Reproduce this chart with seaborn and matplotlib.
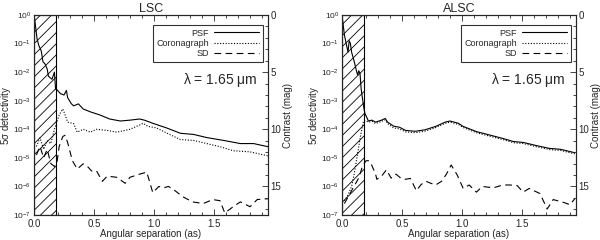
import matplotlib
matplotlib.use('Agg')
import numpy as np
import matplotlib.pyplot as plt
from matplotlib.ticker import MultipleLocator, FixedLocator, NullLocator, FormatStrFormatter
import seaborn as sns

# values, detectivity stored as log10
lsc_psf_x = [0.00, 0.01, 0.025, 0.04, 0.06, 0.075, 0.09, 0.11, 0.12, 0.15, 0.17, 0.18,
             0.19, 0.22, 0.25, 0.27, 0.28, 0.31, 0.33, 0.37, 0.41, 0.47, 0.55, 0.63,
             0.72, 0.80, 0.88, 0.92, 0.99, 1.11, 1.22, 1.33, 1.44, 1.58, 1.72, 1.83, 1.95]
lsc_psf_log = [0.0, -0.3, -0.82, -1.07, -1.25, -1.64, -1.7, -1.89, -2.14, -2.25, -2.0, -2.6,
               -2.61, -2.75, -2.8, -2.64, -2.89, -3.1, -3.18, -3.11, -3.29, -3.39, -3.5, -3.64,
               -3.71, -3.68, -3.64, -3.68, -3.79, -3.96, -4.14, -4.18, -4.29, -4.39, -4.5, -4.5, -4.61]

lsc_cor_x = [0.02, 0.05, 0.08, 0.11, 0.14, 0.17, 0.19, 0.21, 0.24, 0.26, 0.28, 0.33, 0.36,
             0.41, 0.47, 0.52, 0.61, 0.69, 0.80, 0.88, 0.91, 0.95, 1.02, 1.11, 1.22, 1.33,
             1.44, 1.55, 1.66, 1.80, 1.95]
lsc_cor_log = [-4.6, -4.3, -4.7, -4.4, -4.5, -4.0, -3.75, -3.5, -3.29, -3.5, -3.75, -3.8, -4.1,
               -4.0, -4.1, -4.0, -4.04, -4.1, -4.0, -3.85, -3.79, -3.9, -3.95, -4.14, -4.36, -4.39,
               -4.5, -4.61, -4.75, -4.79, -4.93]

lsc_sd_x = [0.02, 0.05, 0.08, 0.11, 0.14, 0.17, 0.19, 0.21, 0.24, 0.26, 0.28, 0.32, 0.36,
            0.41, 0.45, 0.48, 0.52, 0.57, 0.61, 0.69, 0.76, 0.80, 0.88, 0.94, 0.99, 1.04,
            1.08, 1.12, 1.16, 1.24, 1.32, 1.41, 1.49, 1.55, 1.59, 1.66, 1.72, 1.80, 1.86, 1.95]
lsc_sd_log = [-4.9, -4.6, -5.0, -4.7, -5.2, -5.3, -5.2, -4.6, -4.25, -4.21, -4.46, -5.1, -5.39,
              -5.21, -5.32, -5.46, -5.45, -5.82, -5.64, -5.68, -5.89, -5.68, -5.57, -5.5, -6.22, -6.0,
              -6.05, -6.0, -6.1, -6.36, -6.54, -6.6, -6.46, -6.5, -6.93, -6.71, -6.54, -6.71, -6.46, -6.43]

alsc_psf_x = [0.00, 0.02, 0.04, 0.05, 0.06, 0.07, 0.08, 0.10, 0.12, 0.13, 0.14, 0.15, 0.16,
              0.18, 0.19, 0.22, 0.25, 0.28, 0.33, 0.36, 0.38, 0.43, 0.48, 0.53, 0.61, 0.69,
              0.78, 0.86, 0.90, 0.97, 1.01, 1.12, 1.23, 1.34, 1.43, 1.51, 1.62, 1.73, 1.82, 1.94]
alsc_psf_log = [0.0, -0.7, -1.1, -1.3, -0.9, -1.0, -1.3, -1.6, -1.95, -2.1, -1.95, -2.05, -2.6,
                -3.2, -3.43, -3.71, -3.68, -3.75, -3.68, -3.62, -3.75, -3.89, -3.93, -4.04, -4.07, -4.02,
                -3.9, -3.75, -3.71, -3.79, -3.9, -4.08, -4.2, -4.32, -4.43, -4.46, -4.57, -4.67, -4.7, -4.82]

alsc_cor_x = [0.02, 0.05, 0.08, 0.10, 0.12, 0.14, 0.16, 0.18, 0.20, 0.22, 0.25, 0.28, 0.33,
              0.36, 0.38, 0.43, 0.48, 0.53, 0.61, 0.69, 0.78, 0.86, 0.90, 0.97, 1.01, 1.12,
              1.23, 1.34, 1.43, 1.51, 1.62, 1.73, 1.82, 1.94]
alsc_cor_log = [-6.5, -6.3, -6.0, -5.6, -5.1, -4.6, -4.1, -3.7, -3.7, -3.75, -3.72, -3.8, -3.72,
                -3.67, -3.8, -3.95, -3.99, -4.09, -4.12, -4.07, -3.94, -3.79, -3.75, -3.83, -3.94, -4.12,
                -4.24, -4.36, -4.47, -4.5, -4.61, -4.71, -4.74, -4.86]

alsc_sd_x = [0.02, 0.06, 0.10, 0.14, 0.17, 0.20, 0.22, 0.24, 0.28, 0.29, 0.33, 0.37, 0.41,
             0.45, 0.49, 0.53, 0.57, 0.62, 0.66, 0.70, 0.74, 0.78, 0.83, 0.87, 0.91, 0.96,
             1.01, 1.06, 1.12, 1.17, 1.26, 1.34, 1.40, 1.46, 1.51, 1.56, 1.60, 1.65, 1.71,
             1.76, 1.84, 1.90, 1.94]
alsc_sd_log = [-6.6, -6.3, -6.0, -5.7, -5.3, -5.1, -5.1, -5.18, -5.57, -5.75, -5.64, -5.42, -5.71,
               -5.57, -5.71, -5.75, -5.72, -6.15, -5.93, -5.82, -5.89, -5.95, -5.82, -5.57, -5.25, -5.6,
               -6.07, -5.95, -6.2, -6.0, -6.05, -5.95, -5.95, -5.97, -6.2, -6.07, -6.15, -6.25, -6.79,
               -6.46, -6.55, -6.64, -6.43]

panels = [
    ('LSC', lsc_psf_x, lsc_psf_log, lsc_cor_x, lsc_cor_log, lsc_sd_x, lsc_sd_log),
    ('ALSC', alsc_psf_x, alsc_psf_log, alsc_cor_x, alsc_cor_log, alsc_sd_x, alsc_sd_log),
]
mask_edge = 0.18
y_ticks = [1e0, 1e-1, 1e-2, 1e-3, 1e-4, 1e-5, 1e-6, 1e-7]
y_ticklabels = [r'$10^{0}$', r'$10^{-1}$', r'$10^{-2}$', r'$10^{-3}$',
                r'$10^{-4}$', r'$10^{-5}$', r'$10^{-6}$', r'$10^{-7}$']
mag_ticks = [0, 5, 10, 15]

sns.set_style('ticks')
plt.rcParams['font.family'] = ['Liberation Sans', 'DejaVu Sans']
plt.rcParams['mathtext.fontset'] = 'custom'
plt.rcParams['mathtext.rm'] = 'Liberation Sans'
plt.rcParams['mathtext.it'] = 'Liberation Sans'
plt.rcParams['mathtext.default'] = 'regular'
plt.rcParams['hatch.linewidth'] = 0.6
plt.rcParams['axes.linewidth'] = 0.8

fig = plt.figure(figsize=(6, 2.4), dpi=100)
lefts = [34 / 600, 342 / 600]

for (title, px, py, cx, cy, sx, sy), left in zip(panels, lefts):
    ax = fig.add_axes([left, 25 / 240, 234 / 600, 200 / 240])
    ax.axvspan(0, mask_edge, facecolor='white', edgecolor='black', hatch='///', lw=0.8, zorder=1)

    sns.lineplot(x=px, y=10 ** np.array(py), ax=ax, color='black', lw=0.8,
                 label='PSF', zorder=3)
    sns.lineplot(x=cx, y=10 ** np.array(cy), ax=ax, color='black', lw=0.8,
                 linestyle=(0, (1, 1.5)), label='Coronagraph', zorder=3)
    sns.lineplot(x=sx, y=10 ** np.array(sy), ax=ax, color='black', lw=0.8,
                 linestyle=(0, (6, 4)), label='SD', zorder=3)

    ax.set_yscale('log')
    ax.set_xlim(0, 1.95)
    ax.set_ylim(1e-7, 1e0)
    ax.yaxis.set_major_locator(FixedLocator(y_ticks))
    ax.yaxis.set_minor_locator(NullLocator())
    ax.set_yticklabels(y_ticklabels)
    ax.xaxis.set_major_locator(MultipleLocator(0.5))
    ax.xaxis.set_minor_locator(MultipleLocator(0.1))
    ax.xaxis.set_major_formatter(FormatStrFormatter('%.1f'))
    ax.tick_params(which='both', direction='in', top=True)
    ax.tick_params(axis='x', labelsize=7, pad=3)
    ax.tick_params(axis='y', labelsize=6, pad=2)
    ax.tick_params(which='major', length=4, width=0.6)
    ax.tick_params(which='minor', length=2, width=0.6)

    ax.set_title(title, fontsize=9, pad=2)
    ax.set_xlabel('Angular separation (as)', fontsize=7, labelpad=0)
    ax.set_ylabel(r'5$\sigma$ detectivity', fontsize=7)
    ax.yaxis.set_label_coords(-0.088, 0.5)

    leg = ax.legend(loc='upper right', bbox_to_anchor=(0.979, 0.95), markerfirst=False,
                    frameon=True, fancybox=False, fontsize=6.5, handlelength=5,
                    borderaxespad=0, labelspacing=0.15, handletextpad=0.6, borderpad=0.4)
    leg.get_frame().set_edgecolor('black')
    leg.get_frame().set_linewidth(0.8)
    leg._legend_box.align = 'right'

    ax.text(0.953, 0.675, r'$\lambda$ = 1.65 $\mu$m', transform=ax.transAxes,
            ha='right', va='center', fontsize=10)

    ax2 = ax.twinx()
    ax2.set_ylim(17.5, 0)
    ax2.yaxis.set_major_locator(FixedLocator(mag_ticks))
    ax2.yaxis.set_minor_locator(MultipleLocator(1))
    ax2.tick_params(which='both', direction='in', labelsize=7, pad=2)
    ax2.tick_params(which='major', length=4, width=0.6)
    ax2.tick_params(which='minor', length=2, width=0.6)
    ax2.set_ylabel('Contrast (mag)', fontsize=7, labelpad=1)

fig.savefig('out.png', dpi=100)
